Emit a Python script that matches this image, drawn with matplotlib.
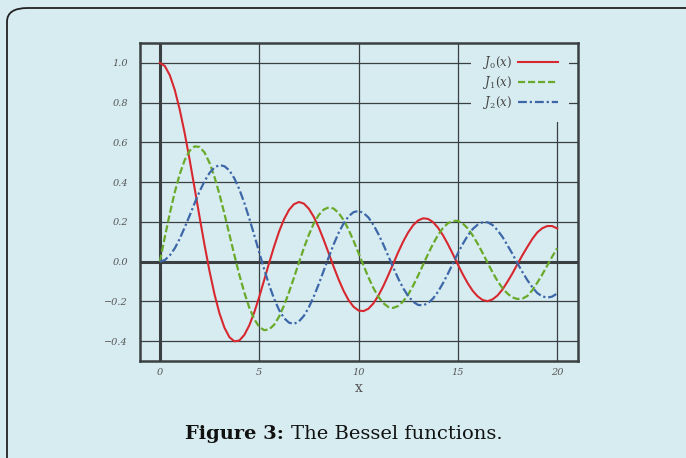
import numpy as np
import matplotlib.pyplot as plt
from matplotlib.patches import FancyBboxPatch

# values, every 0.25 along x
x = np.arange(0, 20.001, 0.25)
j0 = [1.000, 0.984, 0.938, 0.864, 0.765, 0.646, 0.512, 0.369, 0.224, 0.083,
      -0.048, -0.164, -0.260, -0.332, -0.380, -0.401, -0.397, -0.369, -0.321, -0.256,
      -0.178, -0.093, -0.007, 0.076, 0.151, 0.213, 0.260, 0.289, 0.300, 0.292,
      0.266, 0.225, 0.172, 0.109, 0.042, -0.026, -0.090, -0.147, -0.194, -0.227,
      -0.246, -0.249, -0.237, -0.210, -0.171, -0.123, -0.068, -0.010, 0.048, 0.101,
      0.147, 0.183, 0.207, 0.218, 0.215, 0.199, 0.171, 0.133, 0.088, 0.038,
      -0.014, -0.064, -0.109, -0.147, -0.175, -0.193, -0.199, -0.190, -0.170, -0.140,
      -0.101, -0.059, -0.013, 0.032, 0.074, 0.114, 0.147, 0.168, 0.179, 0.179,
      0.167]
j1 = [0.000, 0.124, 0.242, 0.349, 0.440, 0.511, 0.558, 0.580, 0.577, 0.549,
      0.497, 0.426, 0.339, 0.241, 0.137, 0.033, -0.066, -0.155, -0.231, -0.289,
      -0.328, -0.345, -0.341, -0.318, -0.277, -0.221, -0.154, -0.081, -0.005, 0.068,
      0.135, 0.192, 0.235, 0.262, 0.273, 0.267, 0.245, 0.209, 0.161, 0.105,
      0.044, -0.019, -0.079, -0.133, -0.177, -0.209, -0.228, -0.233, -0.223, -0.200,
      -0.166, -0.121, -0.070, -0.016, 0.038, 0.089, 0.133, 0.169, 0.193, 0.205,
      0.205, 0.192, 0.167, 0.132, 0.090, 0.043, -0.006, -0.054, -0.098, -0.134,
      -0.161, -0.180, -0.188, -0.186, -0.173, -0.144, -0.106, -0.065, -0.020, 0.025,
      0.067]
j2 = [0.000, 0.008, 0.031, 0.067, 0.115, 0.172, 0.232, 0.294, 0.353, 0.405,
      0.446, 0.474, 0.486, 0.480, 0.459, 0.419, 0.364, 0.296, 0.218, 0.134,
      0.047, -0.038, -0.117, -0.187, -0.243, -0.284, -0.307, -0.313, -0.301, -0.273,
      -0.230, -0.175, -0.113, -0.045, 0.022, 0.087, 0.145, 0.192, 0.228, 0.249,
      0.255, 0.245, 0.222, 0.185, 0.139, 0.086, 0.028, -0.030, -0.085, -0.134,
      -0.173, -0.202, -0.218, -0.220, -0.209, -0.186, -0.152, -0.109, -0.061, -0.010,
      0.042, 0.089, 0.131, 0.164, 0.186, 0.198, 0.198, 0.184, 0.158, 0.124,
      0.082, 0.039, -0.008, -0.052, -0.093, -0.129, -0.158, -0.175, -0.181, -0.176,
      -0.160]
labels = [r"$J_0(x)$", r"$J_1(x)$", r"$J_2(x)$"]
xticks = [0, 5, 10, 15, 20]
yticks = [-0.4, -0.2, 0.0, 0.2, 0.4, 0.6, 0.8, 1.0]

bg = "#d7ecf1"
dark = "#3a3f42"
grey = "#555555"
plt.rcParams["mathtext.fontset"] = "dejavuserif"

fig = plt.figure(figsize=(6.86, 4.58), dpi=100)
fig.patch.set_facecolor(bg)

# rounded panel border, running off the right and bottom edges
fig.patches.append(FancyBboxPatch((7 / 686, -0.1), 1.2, 1.0 - 8 / 458 + 0.1,
                                  boxstyle="round,pad=0,rounding_size=0.03",
                                  transform=fig.transFigure, facecolor="none",
                                  edgecolor="#222222", linewidth=1.3))

ax = fig.add_axes([140 / 686, 1 - 361 / 458, 438 / 686, 318 / 458])
ax.set_facecolor(bg)
ax.set_xlim(-1.0, 21.05)
ax.set_ylim(-0.5, 1.1)

for s in ax.spines.values():
    s.set_color(dark)
    s.set_linewidth(1.8)

ax.set_xticks(xticks)
ax.set_yticks(yticks)
ax.set_xticklabels([str(v) for v in xticks])
ax.set_yticklabels([("%.1f" % v).replace("-", "\u2212") for v in yticks])
ax.tick_params(length=0, labelsize=7, labelcolor=grey)
ax.tick_params(axis="x", pad=5)
ax.tick_params(axis="y", pad=8.5)
for lab in ax.get_xticklabels() + ax.get_yticklabels():
    lab.set_family("DejaVu Serif")
    lab.set_style("italic")
ax.grid(True, color=dark, linewidth=0.9)
ax.set_axisbelow(True)
ax.axhline(0, color=dark, linewidth=2.2, zorder=1.5)
ax.axvline(0, color=dark, linewidth=2.2, zorder=1.5)

ax.plot(x, j0, color="#d7282f", linewidth=1.5, label=labels[0], zorder=3)
ax.plot(x, j1, color="#6aaa2a", linewidth=1.6, dashes=(3.2, 1.3), label=labels[1], zorder=3)
ax.plot(x, j2, color="#3d67a8", linewidth=1.6, dashes=(4, 1.3, 1, 1.3), label=labels[2], zorder=3)

ax.set_xlabel("x", family="DejaVu Serif", fontsize=10, color=grey, labelpad=3)

leg = ax.legend(loc="upper right", bbox_to_anchor=(0.9795, 1.0), markerfirst=False,
                frameon=True, fancybox=False, facecolor=bg, edgecolor="none",
                framealpha=1, fontsize=8.5, handlelength=3.4, handletextpad=0.5,
                labelspacing=0.25, borderpad=0.95, borderaxespad=0)
leg.set_zorder(2.4)
for t in leg.get_texts():
    t.set_color("#444444")

fig.text(284 / 686, 1 - 434 / 458, "Figure 3:", ha="right", va="center",
         fontsize=14, fontweight="bold", family="DejaVu Serif", color="#111111")
fig.text(291 / 686, 1 - 434 / 458, "The Bessel functions.", ha="left", va="center",
         fontsize=14, family="DejaVu Serif", color="#111111")

fig.savefig("out.png", dpi=100, facecolor=bg)
